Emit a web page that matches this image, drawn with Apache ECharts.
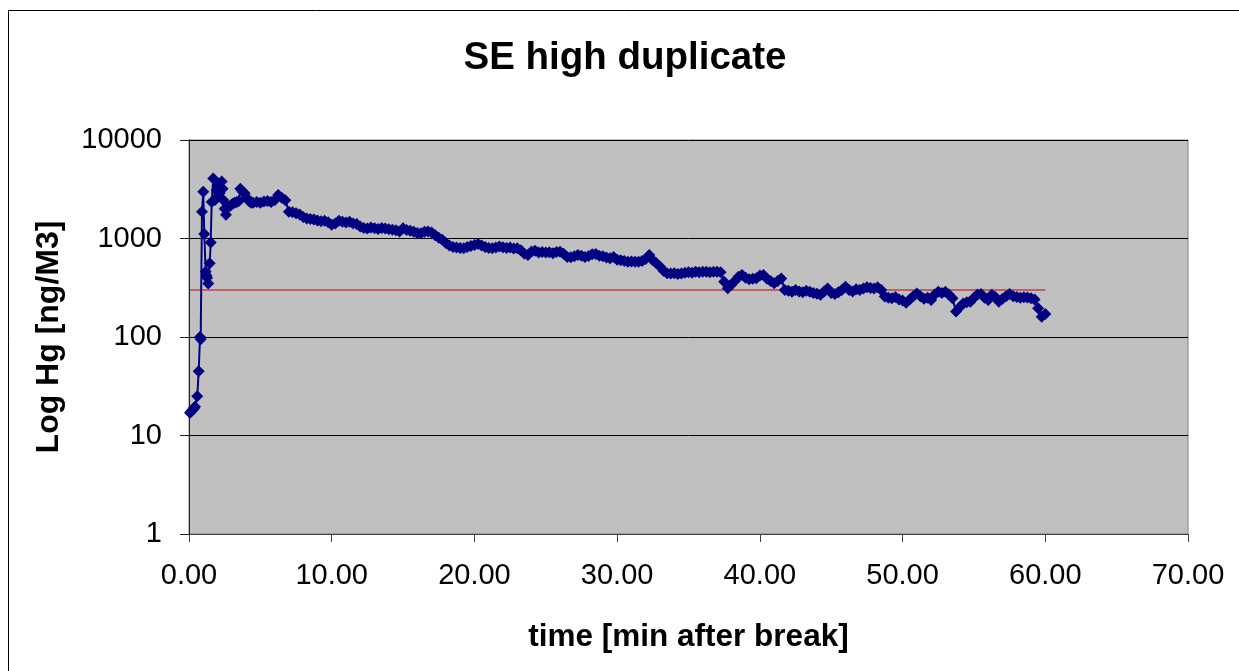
<!DOCTYPE html>
<html><head><meta charset="utf-8">
<script src="https://cdn.jsdelivr.net/npm/echarts@6/dist/echarts.min.js"></script>
<style>html,body{margin:0;padding:0;background:#fff}#c{width:1239px;height:671px}</style>
</head><body><div id="c"></div>
<script>
// time in minutes after break
const timeMin = [
 0.07,0.15,0.22,0.30,0.36,0.42,0.58,0.68,0.77,0.82,
 0.91,1.00,1.07,1.17,1.22,1.27,1.35,1.45,1.52,1.59,
 1.70,1.82,1.94,2.05,2.15,2.29,2.35,2.40,2.50,2.59,
 2.75,2.90,3.05,3.20,3.35,3.50,3.60,3.75,3.90,4.05,
 4.20,4.35,
 4.50,4.75,
 5.00,5.25,5.50,5.75, 6.00,6.25,6.50,6.75, 7.00,7.25,7.50,7.75, 8.00,8.25,8.50,8.75, 9.00,9.25,9.50,9.75,
 10.00,10.25,10.50,10.75, 11.00,11.25,11.50,11.75, 12.00,12.25,12.50,12.75, 13.00,13.25,13.50,13.75, 14.00,14.25,14.50,14.75,
 15.00,15.25,15.50,15.75, 16.00,16.25,16.50,16.75, 17.00,17.25,17.50,17.75, 18.00,18.25,18.50,18.75, 19.00,19.25,19.50,19.75,
 20.00,20.25,20.50,20.75, 21.00,21.25,21.50,21.75, 22.00,22.25,22.50,22.75, 23.00,23.25,23.50,23.75, 24.00,24.25,24.50,24.75,
 25.00,25.25,25.50,25.75, 26.00,26.25,26.50,26.75, 27.00,27.25,27.50,27.75, 28.00,28.25,28.50,28.75, 29.00,29.25,29.50,29.75,
 30.00,30.25,30.50,30.75, 31.00,31.25,31.50,31.75, 32.00,32.25,32.50,32.75, 33.00,33.25,33.50,33.75, 34.00,34.25,34.50,34.75,
 35.00,35.25,35.50,35.75, 36.00,36.25,36.50,36.75, 37.00,37.25,37.50,37.75, 38.00,38.25,38.50,38.75, 39.00,39.25,39.50,39.75,
 40.00,40.25,40.50,40.75, 41.00,41.25,41.50,41.75, 42.00,42.25,42.50,42.75, 43.00,43.25,43.50,43.75, 44.00,44.25,44.50,44.75,
 45.00,45.25,45.50,45.75, 46.00,46.25,46.50,46.75, 47.00,47.25,47.50,47.75, 48.00,48.25,48.50,48.75, 49.00,49.25,49.50,49.75,
 50.00,50.25,50.50,50.75, 51.00,51.25,51.50,51.75, 52.00,52.25,52.50,52.75, 53.00,53.25,53.50,53.75, 54.00,54.25,54.50,54.75,
 55.00,55.25,55.50,55.75, 56.00,56.25,56.50,56.75, 57.00,57.25,57.50,57.75, 58.00,58.25,58.50,58.75, 59.00,59.25,59.50,59.75,
 60.00
];
// Hg concentration [ng/M3]
const hgValues = [
 17,17.5,18,18.5,19,19.6,25,45,100,95,
 1870,2990,1110,460,420,400,350,560,910,2350,
 4070,2460,3100,3490,2900,3800,3200,2460,2000,1740,
 2100,2150,2250,2300,2350,2400,3200,3000,2880,2600,
 2400,2300,
 2300,2350,
 2300,2380,2400,2350, 2450,2770,2600,2450, 1870,1850,1800,1750, 1650,1600,1580,1560, 1520,1500,1510,1460,
 1380,1420,1510,1480, 1450,1480,1420,1400, 1320,1280,1260,1290, 1270,1250,1280,1260, 1240,1230,1210,1180,
 1270,1220,1200,1170, 1140,1130,1170,1180, 1150,1080,1020,970, 900,850,820,810, 800,795,820,840,
 860,880,850,820, 800,795,810,830, 815,800,810,790, 795,760,700,680, 740,750,720,730,
 720,725,710,730, 735,700,650,645, 660,680,670,650, 665,690,695,670, 660,640,630,650,
 610,600,590,582, 585,580,582,590, 620,680,600,560, 520,470,445,440, 445,437,440,450,
 455,450,460,455, 460,460,455,460, 460,455,363,312, 340,370,410,426, 400,385,390,395,
 420,426,390,370, 351,370,393,300, 295,288,300,290, 285,295,288,280, 275,268,290,310,
 280,273,285,300, 324,300,290,305, 300,310,320,315, 310,320,300,257, 250,247,255,240,
 235,223,240,260, 277,260,245,250, 237,270,288,280, 288,270,247,181, 200,219,225,228,
 250,270,273,250, 237,268,255,228, 245,260,273,260, 255,250,253,252, 247,240,196,161,
 171
];
// reference level line
const refTime = [0, 60];
const refValue = [300, 300];

const FONT = "'Liberation Sans', Arial, sans-serif";
const mainData = timeMin.map((t, i) => [t, hgValues[i]]);
const refData = refTime.map((t, i) => [t, refValue[i]]);

const chart = echarts.init(document.getElementById('c'), null, {renderer: 'canvas'});
chart.setOption({
  animation: false,
  backgroundColor: '#ffffff',
  graphic: [{
    type: 'rect', silent: true, z: -10,
    shape: {x: 8.5, y: 10.5, width: 1300, height: 700},
    style: {fill: 'none', stroke: '#000', lineWidth: 1}
  }],
  title: {
    text: 'SE high duplicate',
    left: 620, top: 34, textAlign: 'center',
    textStyle: {fontFamily: FONT, fontSize: 38.5, fontWeight: 'bold', color: '#000'}
  },
  grid: {
    left: 189, top: 140, width: 999, height: 394,
    show: true, backgroundColor: '#c0c0c0', borderColor: '#808080', borderWidth: 1
  },
  xAxis: {
    type: 'value', min: 0, max: 70, interval: 10,
    name: 'time [min after break]', nameLocation: 'middle', nameGap: 87,
    nameTextStyle: {fontFamily: FONT, fontSize: 31.5, fontWeight: 'bold', color: '#000'},
    axisLine: {show: true, onZero: false, lineStyle: {color: '#404040', width: 1}},
    axisTick: {show: true, length: 8, lineStyle: {color: '#404040'}},
    axisLabel: {fontFamily: FONT, fontSize: 29, color: '#000', margin: 27,
      formatter: v => v.toFixed(2)},
    splitLine: {show: false}
  },
  yAxis: {
    type: 'log', logBase: 10, min: 1, max: 10000,
    name: 'Log Hg [ng/M3]', nameLocation: 'middle', nameGap: 124,
    nameTextStyle: {fontFamily: FONT, fontSize: 32, fontWeight: 'bold', color: '#000'},
    axisLine: {show: true, lineStyle: {color: '#202020', width: 1}},
    axisTick: {show: true, length: 9, lineStyle: {color: '#202020'}},
    axisLabel: {fontFamily: FONT, fontSize: 29, color: '#000', margin: 27,
      formatter: v => String(Math.round(v))},
    splitLine: {show: true, lineStyle: {color: '#000', width: 1}}
  },
  series: [
    {
      type: 'line', data: refData, symbol: 'none', z: 2,
      lineStyle: {color: '#c00000', width: 1.2}
    },
    {
      type: 'line', data: mainData, z: 3,
      symbol: 'diamond', symbolSize: 12, showAllSymbol: true,
      itemStyle: {color: '#000080'},
      lineStyle: {color: '#000080', width: 2}
    }
  ]
});
</script>
</body></html>
